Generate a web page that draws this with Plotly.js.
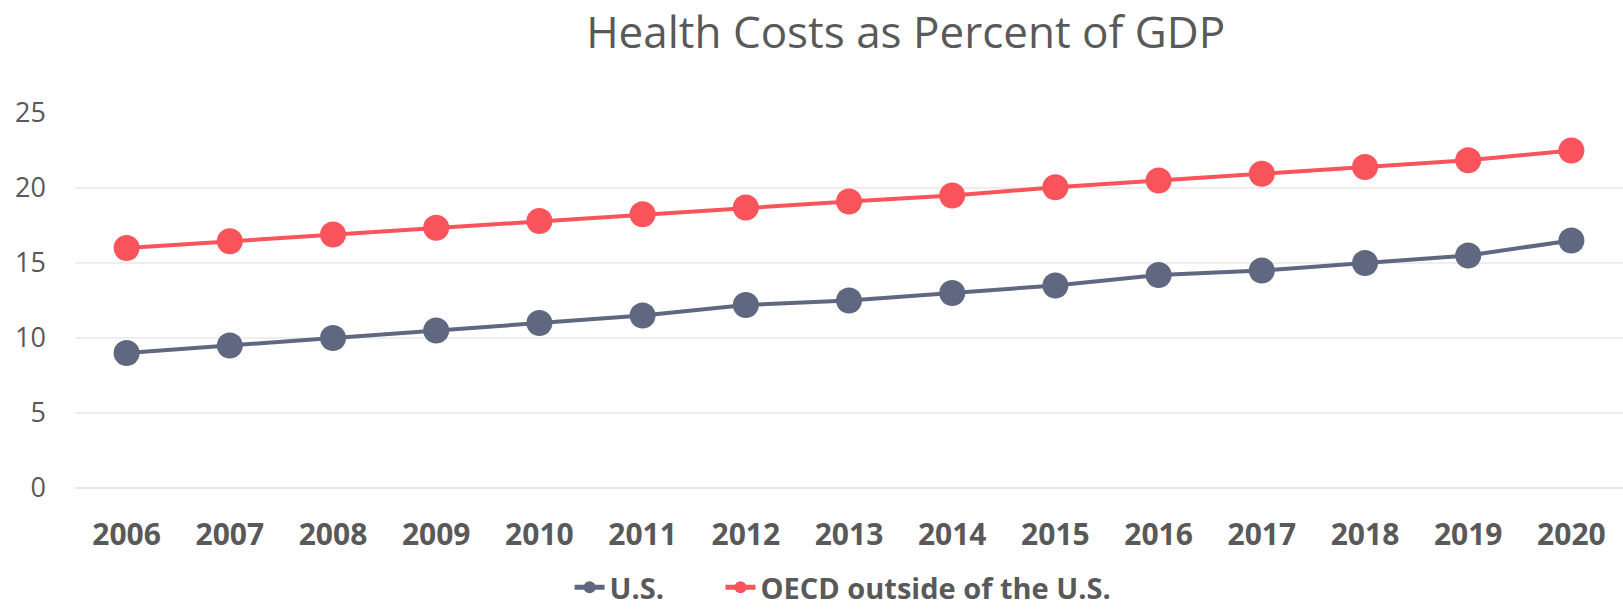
<!DOCTYPE html>
<html>
<head>
<meta charset="utf-8">
<script src="https://cdn.plot.ly/plotly-3.0.1.min.js"></script>
<style>html,body{margin:0;padding:0;background:#fff;}#chart{width:1623px;height:610px;}</style>
</head>
<body>
<div id="chart"></div>
<script>
const years = ["2006","2007","2008","2009","2010","2011","2012","2013","2014","2015","2016","2017","2018","2019","2020"];
const usValues = [9, 9.5, 10, 10.5, 11, 11.5, 12.2, 12.5, 13, 13.5, 14.2, 14.5, 15, 15.5, 16.5];
const oecdValues = [16, 16.45, 16.9, 17.35, 17.8, 18.25, 18.7, 19.1, 19.5, 20.05, 20.5, 20.95, 21.4, 21.85, 22.5];
const yTicks = [0, 5, 10, 15, 20, 25];
const seriesNames = ["U.S.", "OECD outside of the U.S."];

const usColor = "#5f6880";
const oecdColor = "#f9545b";
const textColor = "#595959";

const traces = [
  {x: years, y: usValues, name: seriesNames[0], type: "scatter", mode: "lines+markers", legend: "legend",
   line: {color: usColor, width: 4}, marker: {color: usColor, size: 26}, cliponaxis: false},
  {x: years, y: oecdValues, name: seriesNames[1], type: "scatter", mode: "lines+markers", legend: "legend2",
   line: {color: oecdColor, width: 4}, marker: {color: oecdColor, size: 26}, cliponaxis: false}
];

const legendFont = {family: "Open Sans, sans-serif", size: 29, color: textColor, weight: "bold"};

const layout = {
  width: 1623, height: 610,
  paper_bgcolor: "#ffffff", plot_bgcolor: "#ffffff",
  margin: {l: 75, r: 0, t: 113, b: 122},
  title: {text: "Health Costs as Percent of GDP", x: 0.558, xanchor: "center", y: 0.946, yanchor: "middle",
    yref: "container", font: {family: "Open Sans, sans-serif", size: 44, color: textColor}},
  xaxis: {type: "category", range: [-0.5, 14.5], showgrid: false, zeroline: false, showline: false,
    ticks: "", ticklabelstandoff: 26,
    tickfont: {family: "Open Sans, sans-serif", size: 30, color: textColor, weight: "bold"}},
  yaxis: {range: [0, 25], tickvals: yTicks, ticktext: yTicks.map(String), showgrid: true,
    gridcolor: "#eeeeee", gridwidth: 1.5, zeroline: true, zerolinecolor: "#e6e6e6", zerolinewidth: 2,
    showline: false, ticks: "", ticklabelstandoff: 28,
    tickfont: {family: "Open Sans, sans-serif", size: 27, color: textColor}},
  showlegend: true,
  legend: {orientation: "h", x: 0.3195, xanchor: "left", y: 0.037, yref: "container", yanchor: "middle",
    itemsizing: "constant", font: legendFont},
  legend2: {orientation: "h", x: 0.417, xanchor: "left", y: 0.037, yref: "container", yanchor: "middle",
    itemsizing: "constant", font: legendFont},
  hovermode: false
};

Plotly.newPlot("chart", traces, layout, {displayModeBar: false, staticPlot: true});
</script>
</body>
</html>
